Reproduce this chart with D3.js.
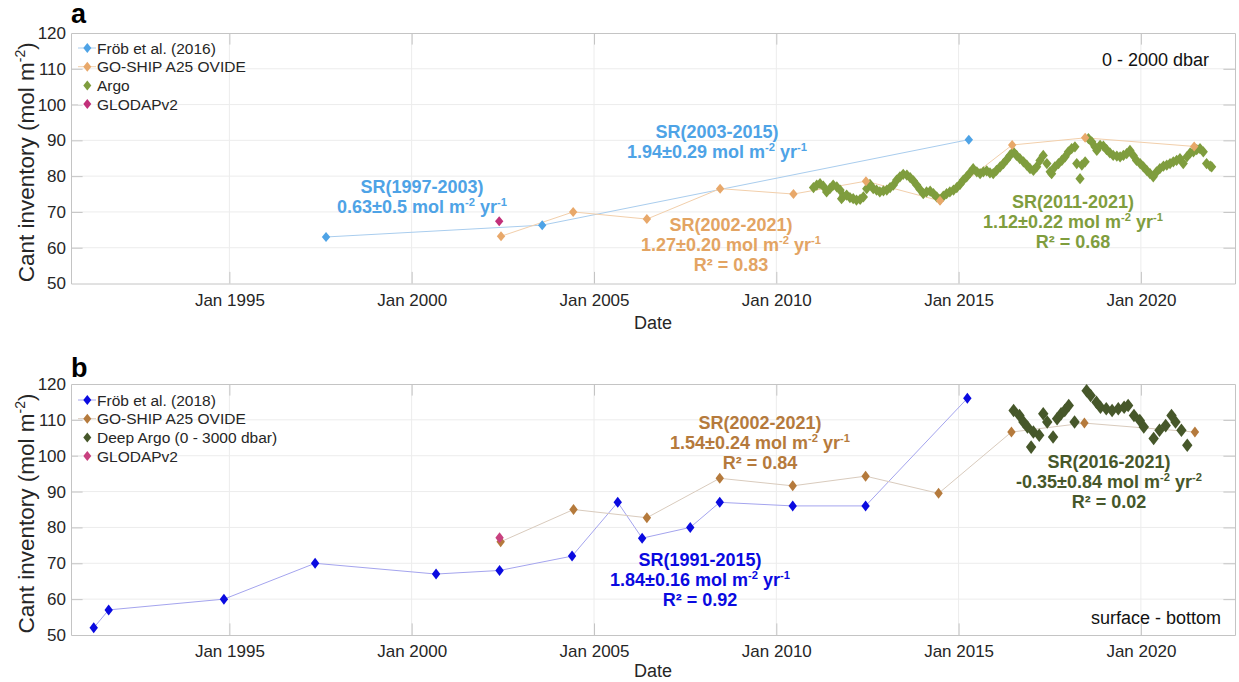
<!DOCTYPE html>
<html>
<head>
<meta charset="utf-8">
<script src="https://cdn.jsdelivr.net/npm/d3@7"></script>
<style>
  body { margin: 0; background: #fff; }
  svg { display: block; }
  text { font-family: "Liberation Sans", Arial, Helvetica, sans-serif; }
</style>
</head>
<body>
<svg id="chart" width="1239" height="682"></svg>
<script>
// ---------- Panel a: 0 - 2000 dbar ----------
const frob2016Dates  = [1997.65, 2003.58, 2015.28];
const frob2016Values = [63.0, 66.3, 90.2];

const ovideADates  = [2002.45, 2004.43, 2006.45, 2008.46, 2010.47, 2012.46, 2014.49, 2016.47, 2018.47, 2021.46];
const ovideAValues = [63.2, 70.0, 68.0, 76.5, 75.0, 78.6, 73.1, 88.7, 90.7, 88.3];

const glodapADates  = [2002.40];
const glodapAValues = [67.4];

const argoDates = [
  2011.02, 2011.11, 2011.20, 2011.29, 2011.38, 2011.47, 2011.56, 2011.66, 2011.75, 2011.79,
  2011.84, 2011.93, 2012.02, 2012.11, 2012.20, 2012.30, 2012.39, 2012.48, 2012.57, 2012.66,
  2012.75, 2012.84, 2012.94, 2013.03, 2013.12, 2013.21, 2013.30, 2013.39, 2013.48, 2013.58,
  2013.67, 2013.76, 2013.85, 2013.94, 2014.03, 2014.12, 2014.22, 2014.31, 2014.40, 2014.49,
  2014.58, 2014.67, 2014.76, 2014.86, 2014.95, 2015.04, 2015.13, 2015.22, 2015.31, 2015.40,
  2015.50, 2015.59, 2015.68, 2015.77, 2015.86, 2015.95, 2016.04, 2016.14, 2016.23, 2016.32,
  2016.41, 2016.50, 2016.59, 2016.68, 2016.78, 2016.87, 2016.96, 2017.05, 2017.14, 2017.23,
  2017.32, 2017.42, 2017.51, 2017.55, 2017.64, 2017.74, 2017.83, 2017.92, 2018.01, 2018.10,
  2018.19, 2018.24, 2018.33, 2018.38, 2018.47, 2018.56, 2018.65, 2018.74, 2018.79, 2018.88,
  2018.97, 2019.06, 2019.15, 2019.24, 2019.34, 2019.43, 2019.52, 2019.61, 2019.70, 2019.79,
  2019.88, 2019.98, 2020.07, 2020.16, 2020.25, 2020.34, 2020.43, 2020.52, 2020.62, 2020.71,
  2020.80, 2020.89, 2020.98, 2021.07, 2021.16, 2021.26, 2021.35, 2021.44, 2021.53, 2021.62,
  2021.71, 2021.80, 2021.90, 2021.94];
const argoValues = [
  76.8, 77.5, 77.9, 77.2, 75.6, 76.5, 77.5, 77.0, 76.1, 73.7,
  74.4, 74.7, 74.0, 73.7, 73.3, 73.5, 74.2, 76.5, 77.7, 76.5,
  76.1, 75.6, 75.9, 76.1, 76.8, 77.5, 78.9, 79.8, 80.5, 80.3,
  79.6, 78.7, 77.5, 76.3, 75.1, 75.6, 75.8, 75.1, 74.2, 73.5,
  74.4, 75.1, 75.6, 76.1, 76.8, 77.7, 78.9, 79.8, 80.9, 82.1,
  81.2, 80.7, 81.2, 81.5, 80.9, 80.7, 81.6, 82.6, 83.5, 84.6,
  85.8, 86.8, 85.8, 84.9, 84.0, 83.1, 82.1, 81.6, 82.6, 84.4,
  85.8, 83.5, 81.2, 80.7, 82.6, 83.5, 84.4, 85.4, 86.8, 87.7,
  88.2, 83.5, 79.3, 83.1, 84.0, 90.5, 89.6, 88.2, 87.2, 88.6,
  88.4, 87.4, 86.5, 85.8, 85.6, 85.4, 85.8, 86.3, 87.2, 85.8,
  84.4, 83.5, 82.6, 81.6, 80.7, 79.8, 81.2, 82.1, 82.8, 83.1,
  83.5, 84.0, 84.4, 84.9, 83.5, 85.4, 86.5, 86.8, 87.4, 87.7,
  86.8, 83.5, 82.8, 82.6];

// ---------- Panel b: surface - bottom ----------
const frob2018Dates  = [1991.28, 1991.69, 1994.85, 1997.35, 2000.67, 2002.41, 2004.40, 2005.65, 2006.32, 2007.64, 2008.45, 2010.45, 2012.45, 2015.24];
const frob2018Values = [52, 57, 60, 70, 67, 68, 72, 87, 77, 80, 87, 86, 86, 116];

const ovideBDates  = [2002.44, 2004.44, 2006.45, 2008.45, 2010.45, 2012.45, 2014.45, 2016.45, 2018.45, 2021.48];
const ovideBValues = [76.0, 85.0, 82.7, 93.7, 91.6, 94.3, 89.5, 106.6, 109.1, 106.6];

const glodapBDates  = [2002.41];
const glodapBValues = [77.1];

const deepArgoDates = [2016.51, 2016.67, 2016.78, 2016.89, 2016.99, 2017.05, 2017.21, 2017.32, 2017.43, 2017.59,
  2017.70, 2017.81, 2017.91, 2018.02, 2018.18, 2018.51, 2018.62, 2018.78, 2018.89, 2019.05,
  2019.21, 2019.38, 2019.54, 2019.65, 2019.81, 2019.97, 2020.08, 2020.35, 2020.51, 2020.68,
  2020.84, 2020.95, 2021.11, 2021.27];
const deepArgoValues = [112.6, 111.2, 109.4, 108.0, 102.4, 106.6, 105.7, 111.7, 109.4, 105.2,
  110.3, 111.7, 112.6, 114.0, 109.4, 118.1, 116.8, 114.9, 113.5, 113.1,
  112.6, 113.1, 113.5, 114.0, 111.2, 109.8, 108.0, 104.8, 107.1, 108.4,
  111.2, 109.4, 107.1, 102.9];

// ---------- Axis ticks ----------
const yTicks = [50, 60, 70, 80, 90, 100, 110, 120];
const xTickYears = [1995, 2000, 2005, 2010, 2015, 2020];
const xDomainYears = [1990.656, 2022.58];

// ---------- helpers ----------
const YEAR_MS = 365.2425 * 24 * 3600 * 1000;
function decToDate(y) {
  const base = Math.floor(y);
  return new Date(Date.UTC(base, 0, 1) + (y - base) * YEAR_MS);
}
function zipSeries(dates, values) {
  return dates.map((d, i) => ({ date: decToDate(d), value: values[i] }));
}

const svg = d3.select("#chart");
const FONT_TICK = 17;
const textDark = "#262626";
const frameColor = "#c4c4c4";
const gridColor = "#ececec";

// Adds text made of plain and superscript parts
function richText(g, x, y, parts, opts) {
  const fs = opts.size;
  const t = g.append("text")
    .attr("x", x).attr("y", y)
    .attr("text-anchor", opts.anchor || "middle")
    .attr("font-size", fs)
    .attr("font-weight", opts.weight || "normal")
    .attr("fill", opts.color);
  if (opts.transform) t.attr("transform", opts.transform);
  let raised = false;
  const shift = fs * 0.38;
  parts.forEach(p => {
    const isSup = Array.isArray(p);
    const txt = isSup ? p[0] : p;
    const ts = t.append("tspan").text(txt);
    if (isSup && !raised) { ts.attr("dy", -shift).attr("font-size", fs * 0.62); raised = true; }
    else if (isSup) { ts.attr("font-size", fs * 0.62); }
    else if (!isSup && raised) { ts.attr("dy", shift); raised = false; }
  });
  return t;
}

function diamond(w, h) {
  return `M0,${-h}L${w},0L0,${h}L${-w},0Z`;
}

function drawPanel(cfg) {
  const { top, bottom, left, right } = cfg;
  const g = svg.append("g");
  const x = d3.scaleUtc()
    .domain(xDomainYears.map(decToDate))
    .range([left, right]);
  const y = d3.scaleLinear().domain([50, 120]).range([bottom, top]);

  // grid
  const tickDates = xTickYears.map(yr => new Date(Date.UTC(yr, 0, 1)));
  g.append("g").selectAll("line.gx").data(tickDates).join("line")
    .attr("x1", d => x(d)).attr("x2", d => x(d))
    .attr("y1", top).attr("y2", bottom)
    .attr("stroke", gridColor).attr("stroke-width", 1);
  g.append("g").selectAll("line.gy").data(yTicks.slice(1, -1)).join("line")
    .attr("x1", left).attr("x2", right)
    .attr("y1", d => y(d)).attr("y2", d => y(d))
    .attr("stroke", gridColor).attr("stroke-width", 1);

  // axes (inward ticks on all four sides, box frame)
  const tl = 11.6;
  const xAxisB = d3.axisBottom(x).tickValues(tickDates).tickSize(-tl).tickSizeOuter(0)
    .tickFormat(d3.utcFormat("Jan %Y")).tickPadding(10);
  const xAxisT = d3.axisTop(x).tickValues(tickDates).tickSize(-tl).tickSizeOuter(0).tickFormat("");
  const yAxisL = d3.axisLeft(y).tickValues(yTicks).tickSize(-tl).tickSizeOuter(0).tickPadding(5);
  const yAxisR = d3.axisRight(y).tickValues(yTicks).tickSize(-tl).tickSizeOuter(0).tickFormat("");

  function styleAxis(sel) {
    sel.select(".domain").attr("stroke", frameColor);
    sel.selectAll(".tick line").attr("stroke", frameColor);
    sel.selectAll(".tick text").attr("fill", textDark).attr("font-size", FONT_TICK)
      .attr("font-family", '"Liberation Sans", Arial, Helvetica, sans-serif');
  }
  g.append("g").attr("transform", `translate(0,${bottom})`).call(xAxisB).call(styleAxis);
  g.append("g").attr("transform", `translate(0,${top})`).call(xAxisT).call(styleAxis);
  g.append("g").attr("transform", `translate(${left},0)`).call(yAxisL).call(styleAxis);
  g.append("g").attr("transform", `translate(${right},0)`).call(yAxisR).call(styleAxis);
  // hide the end ticks that sit on the frame corners
  g.selectAll(".tick").filter(d => d === 50 || d === 120).select("line").attr("stroke", "none");

  // series
  const plot = g.append("g");
  cfg.series.forEach(s => {
    const pts = zipSeries(s.dates, s.values);
    if (s.line) {
      plot.append("path").datum(pts)
        .attr("fill", "none")
        .attr("stroke", s.lineColor)
        .attr("stroke-width", 1)
        .attr("d", d3.line().x(d => x(d.date)).y(d => y(d.value)));
    }
  });
  cfg.series.slice().sort((a, b) => a.order - b.order).forEach(s => {
    const pts = zipSeries(s.dates, s.values);
    plot.append("g").selectAll("path").data(pts).join("path")
      .attr("d", diamond(s.mw, s.mh))
      .attr("transform", d => `translate(${x(d.date)},${y(d.value)})`)
      .attr("fill", s.color);
  });

  // legend
  const lg = g.append("g");
  cfg.legend.forEach((s, i) => {
    const ly = cfg.legendY + i * 18.7;
    lg.append("line").attr("x1", 78).attr("x2", 96).attr("y1", ly).attr("y2", ly)
      .attr("stroke", s.lineColor).attr("stroke-width", 1);
    lg.append("path").attr("d", diamond(4, 5)).attr("transform", `translate(87.3,${ly})`).attr("fill", s.color);
    lg.append("text").attr("x", 97).attr("y", ly + 5.5).attr("font-size", 15.5)
      .attr("fill", textDark).text(s.name);
  });

  // annotations
  cfg.notes.forEach(n => {
    n.lines.forEach((parts, i) => {
      richText(g, n.x, n.y + i * 20, parts, { size: 18, weight: "bold", color: n.color });
    });
  });

  // panel letter, depth range, axis titles
  g.append("text").attr("x", 71).attr("y", cfg.letterY).attr("font-size", 27).attr("font-weight", "bold")
    .attr("fill", "#000").text(cfg.letter);
  g.append("text").attr("x", cfg.rangeX).attr("y", cfg.rangeY).attr("text-anchor", "end")
    .attr("font-size", 18).attr("fill", "#111").text(cfg.rangeText);
  g.append("text").attr("x", (left + right) / 2).attr("y", cfg.dateY).attr("text-anchor", "middle")
    .attr("font-size", 18).attr("fill", textDark).text("Date");
  const cy = (top + bottom) / 2;
  richText(g, 0, 0, ["Cant inventory (mol m", ["-2"], ")"],
    { size: 22.5, color: textDark, anchor: "middle", transform: `translate(34,${cy + 4}) rotate(-90)` });
}

// ---------- colours ----------
const cFrobA = "#4ea3e6", cOvideA = "#e8a86a", cArgo = "#7f9d3e", cGlodapA = "#c2307a";
const cFrobB = "#0a0ae0", cOvideB = "#b57a3c", cDeepArgo = "#46572a", cGlodapB = "#c8417f";

drawPanel({
  top: 33, bottom: 283.5, left: 71, right: 1235,
  letter: "a", letterY: 23, rangeText: "0 - 2000 dbar", rangeX: 1209, rangeY: 66, dateY: 329,
  legendY: 48,
  series: [
    { dates: frob2016Dates, values: frob2016Values, color: cFrobA, lineColor: "#a9cdee", line: true, mw: 4.2, mh: 5, order: 1 },
    { dates: ovideADates, values: ovideAValues, color: cOvideA, lineColor: "#f2cfab", line: true, mw: 4.2, mh: 5, order: 3 },
    { dates: argoDates, values: argoValues, color: cArgo, lineColor: cArgo, line: false, mw: 4.6, mh: 5.6, order: 2 },
    { dates: glodapADates, values: glodapAValues, color: cGlodapA, lineColor: cGlodapA, line: false, mw: 4.2, mh: 5, order: 4 }
  ],
  legend: [
    { name: "Fröb et al. (2016)", color: cFrobA, lineColor: "#a9cdee" },
    { name: "GO-SHIP A25 OVIDE", color: cOvideA, lineColor: "#f2cfab" },
    { name: "Argo", color: cArgo, lineColor: "#ffffff" },
    { name: "GLODAPv2", color: cGlodapA, lineColor: "#ffffff" }
  ],
  notes: [
    { x: 422, y: 193, color: cFrobA, lines: [["SR(1997-2003)"], ["0.63±0.5 mol m", ["-2"], " yr", ["-1"]]] },
    { x: 717, y: 138, color: cFrobA, lines: [["SR(2003-2015)"], ["1.94±0.29 mol m", ["-2"], " yr", ["-1"]]] },
    { x: 731, y: 231, color: "#e3a463", lines: [["SR(2002-2021)"], ["1.27±0.20 mol m", ["-2"], " yr", ["-1"]], ["R² = 0.83"]] },
    { x: 1073, y: 208, color: cArgo, lines: [["SR(2011-2021)"], ["1.12±0.22 mol m", ["-2"], " yr", ["-1"]], ["R² = 0.68"]] }
  ]
});

drawPanel({
  top: 384, bottom: 635, left: 71, right: 1235,
  letter: "b", letterY: 377, rangeText: "surface - bottom", rangeX: 1221, rangeY: 624, dateY: 677,
  legendY: 400,
  series: [
    { dates: frob2018Dates, values: frob2018Values, color: cFrobB, lineColor: "#a4a4ee", line: true, mw: 4.2, mh: 5.5, order: 1 },
    { dates: ovideBDates, values: ovideBValues, color: cOvideB, lineColor: "#d9cbbd", line: true, mw: 4.2, mh: 5.5, order: 3 },
    { dates: deepArgoDates, values: deepArgoValues, color: cDeepArgo, lineColor: cDeepArgo, line: false, mw: 5.2, mh: 6.8, order: 2 },
    { dates: glodapBDates, values: glodapBValues, color: cGlodapB, lineColor: cGlodapB, line: false, mw: 4.2, mh: 5.5, order: 4 }
  ],
  legend: [
    { name: "Fröb et al. (2018)", color: cFrobB, lineColor: "#a4a4ee" },
    { name: "GO-SHIP A25 OVIDE", color: cOvideB, lineColor: "#d9cbbd" },
    { name: "Deep Argo (0 - 3000 dbar)", color: cDeepArgo, lineColor: "#ffffff" },
    { name: "GLODAPv2", color: cGlodapB, lineColor: "#ffffff" }
  ],
  notes: [
    { x: 760, y: 429, color: cOvideB, lines: [["SR(2002-2021)"], ["1.54±0.24 mol m", ["-2"], " yr", ["-1"]], ["R² = 0.84"]] },
    { x: 700, y: 566, color: cFrobB, lines: [["SR(1991-2015)"], ["1.84±0.16 mol m", ["-2"], " yr", ["-1"]], ["R² = 0.92"]] },
    { x: 1109, y: 468, color: cDeepArgo, lines: [["SR(2016-2021)"], ["-0.35±0.84 mol m", ["-2"], " yr", ["-2"]], ["R² = 0.02"]] }
  ]
});
</script>
</body>
</html>
